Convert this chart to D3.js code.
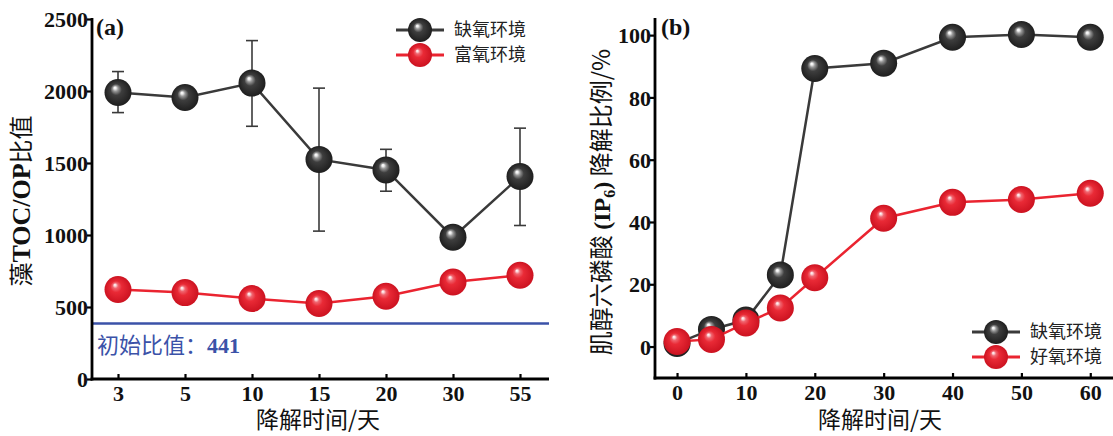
<!DOCTYPE html>
<html><head><meta charset="utf-8">
<script src="https://cdn.jsdelivr.net/npm/d3@7"></script>
<style>
body{margin:0;background:#fff;}
svg{display:block;}
.num{font-family:"Liberation Serif","Times New Roman",serif;font-weight:bold;}
.cjk{font-family:"Noto Sans CJK SC",sans-serif;}
</style></head>
<body><svg id="c" width="1113" height="436"></svg>
<script>
// ---- data ----
const daysA = ["3","5","10","15","20","30","55"];
const anoxA = [1990, 1955, 2055, 1525, 1452, 985, 1406];
const anoxAErrLow = [1850, null, 1755, 1027, 1304, null, 1066];
const anoxAErrHigh = [2135, null, 2350, 2020, 1595, null, 1742];
const oxicA = [621, 600, 559, 524, 575, 674, 720];
const baselineA = 385;
const baselineLabel = "441";
const ticksAy = [0, 500, 1000, 1500, 2000, 2500];

const daysB = [0, 5, 10, 15, 20, 30, 40, 50, 60];
const anoxB = [1, 5.5, 8.5, 23, 89.3, 91, 99.3, 100.2, 99.3];
const oxicB = [1.6, 2.3, 7.6, 12.4, 22.1, 41.2, 46.3, 47.2, 49.2];
const ticksBx = [0, 10, 20, 30, 40, 50, 60];
const ticksBy = [0, 20, 40, 60, 80, 100];

const svg = d3.select("#c");
const defs = svg.append("defs");
function grad(id, stops){
  const g = defs.append("radialGradient").attr("id", id)
    .attr("cx","0.5").attr("cy","0.5").attr("r","0.5").attr("fx","0.38").attr("fy","0.32");
  stops.forEach(s=>g.append("stop").attr("offset",s[0]).attr("stop-color",s[1]));
}
grad("gBlack", [[0,"#ffffff"],[0.08,"#f0f0f0"],[0.2,"#9a9a9a"],[0.42,"#3e3e3e"],[1,"#1e1e1e"]]);
grad("gRed", [[0,"#ffffff"],[0.08,"#fbd5d8"],[0.2,"#f06670"],[0.42,"#e92a36"],[1,"#cc1220"]]);

const BLACK = "#3a3a3a", RED = "#ea2430", BLUE = "#3b52a8";
const R = 13.5;
const TF = 22;

function styleY(g){
  g.select(".domain").remove();
  g.selectAll(".tick line").attr("stroke","#000").attr("stroke-width",2.2);
  g.selectAll("text").attr("class","num").attr("font-size",TF).attr("fill","#111").attr("x",-4).attr("dy","0.35em");
}
function styleX(g){
  g.select(".domain").remove();
  g.selectAll(".tick line").attr("stroke","#000").attr("stroke-width",2.2);
  g.selectAll("text").attr("class","num").attr("font-size",TF).attr("fill","#111").attr("y",6).attr("dy","0.71em");
}

// ---------- Panel A ----------
const xA = d3.scalePoint().domain(daysA).range([118, 520]);
const yA = d3.scaleLinear().domain([0, 2500]).range([379, 19]);
const gA = svg.append("g");

gA.append("line").attr("x1", 92).attr("x2", 549)
  .attr("y1", yA(baselineA)).attr("y2", yA(baselineA))
  .attr("stroke", BLUE).attr("stroke-width", 2.5);
const bl = gA.append("text").attr("x", 97).attr("y", yA(baselineA) + 29)
  .attr("fill", BLUE).attr("font-size", 22);
bl.append("tspan").attr("class","cjk").text("初始比值：");
bl.append("tspan").attr("class","num").attr("font-size",22).text(baselineLabel);

gA.append("g").attr("transform","translate(92,0)")
  .call(d3.axisLeft(yA).tickValues(ticksAy).tickFormat(d3.format("d")).tickSize(5).tickSizeOuter(0)).call(styleY);
gA.append("g").attr("transform","translate(0,379)")
  .call(d3.axisBottom(xA).tickSize(-5).tickSizeOuter(0)).call(styleX);
gA.append("line").attr("x1",92).attr("x2",92).attr("y1",18).attr("y2",380.5).attr("stroke","#000").attr("stroke-width",2.8);
gA.append("line").attr("x1",90.6).attr("x2",549).attr("y1",379).attr("y2",379).attr("stroke","#000").attr("stroke-width",2.8);

const lineA = d3.line().x((d,i)=>xA(daysA[i])).y(d=>yA(d));
gA.append("path").datum(anoxA).attr("d", lineA).attr("fill","none").attr("stroke",BLACK).attr("stroke-width",2.5);
gA.append("path").datum(oxicA).attr("d", lineA).attr("fill","none").attr("stroke",RED).attr("stroke-width",2.5);
daysA.forEach((d,i)=>{
  if(anoxAErrLow[i]==null) return;
  const x = xA(d);
  gA.append("line").attr("x1",x).attr("x2",x).attr("y1",yA(anoxAErrLow[i])).attr("y2",yA(anoxAErrHigh[i])).attr("stroke",BLACK).attr("stroke-width",1.6);
  [anoxAErrLow[i], anoxAErrHigh[i]].forEach(v=>gA.append("line").attr("x1",x-6).attr("x2",x+6).attr("y1",yA(v)).attr("y2",yA(v)).attr("stroke",BLACK).attr("stroke-width",1.6));
});
gA.selectAll(".pa").data(anoxA).enter().append("circle").attr("cx",(d,i)=>xA(daysA[i])).attr("cy",d=>yA(d)).attr("r",R).attr("fill","url(#gBlack)");
gA.selectAll(".pb").data(oxicA).enter().append("circle").attr("cx",(d,i)=>xA(daysA[i])).attr("cy",d=>yA(d)).attr("r",R).attr("fill","url(#gRed)");

gA.append("text").attr("class","num").attr("x",96).attr("y",35).attr("font-size",24).attr("fill","#111").text("(a)");
const tA = gA.append("text").attr("transform","translate(30,201) rotate(-90)").attr("text-anchor","middle").attr("font-size",26).attr("fill","#111");
tA.append("tspan").attr("class","cjk").attr("font-size",24).text("藻");
tA.append("tspan").attr("class","num").text("TOC/OP");
tA.append("tspan").attr("class","cjk").attr("font-size",24).text("比值");
gA.append("text").attr("class","cjk").attr("x",318).attr("y",428).attr("text-anchor","middle").attr("font-size",23).attr("fill","#111").text("降解时间/天");

function legend(g, x, y, fill, color, label){
  g.append("line").attr("x1",x-24).attr("x2",x+24).attr("y1",y).attr("y2",y).attr("stroke",color).attr("stroke-width",3);
  g.append("circle").attr("cx",x).attr("cy",y).attr("r",12).attr("fill",fill);
  g.append("text").attr("class","cjk").attr("x",x+34).attr("y",y).attr("dy","0.36em").attr("font-size",18).attr("fill","#222").text(label);
}
legend(gA, 420, 30, "url(#gBlack)", BLACK, "缺氧环境");
legend(gA, 420, 55, "url(#gRed)", RED, "富氧环境");

// ---------- Panel B ----------
const xB = d3.scaleLinear().domain([-3.2, 63.3]).range([655, 1113]);
const yB = d3.scaleLinear().domain([-10.1, 105.5]).range([378, 18]);
const gB = svg.append("g");
gB.append("g").attr("transform","translate(655,0)")
  .call(d3.axisLeft(yB).tickValues(ticksBy).tickSize(5).tickSizeOuter(0)).call(styleY);
gB.append("g").attr("transform","translate(0,378)")
  .call(d3.axisBottom(xB).tickValues(ticksBx).tickSize(-5).tickSizeOuter(0)).call(styleX);
gB.append("line").attr("x1",655).attr("x2",655).attr("y1",18).attr("y2",379.5).attr("stroke","#000").attr("stroke-width",2.8);
gB.append("line").attr("x1",653.6).attr("x2",1113).attr("y1",378).attr("y2",378).attr("stroke","#000").attr("stroke-width",2.8);

const lineB = d3.line().x((d,i)=>xB(daysB[i])).y(d=>yB(d));
gB.append("path").datum(anoxB).attr("d", lineB).attr("fill","none").attr("stroke",BLACK).attr("stroke-width",2.5);
gB.selectAll(".qa").data(anoxB).enter().append("circle").attr("cx",(d,i)=>xB(daysB[i])).attr("cy",d=>yB(d)).attr("r",R).attr("fill","url(#gBlack)");
gB.append("path").datum(oxicB).attr("d", lineB).attr("fill","none").attr("stroke",RED).attr("stroke-width",2.5);
gB.selectAll(".qb").data(oxicB).enter().append("circle").attr("cx",(d,i)=>xB(daysB[i])).attr("cy",d=>yB(d)).attr("r",R).attr("fill","url(#gRed)");

gB.append("text").attr("class","num").attr("x",661).attr("y",35).attr("font-size",24).attr("fill","#111").text("(b)");
const tB = gB.append("text").attr("transform","translate(610,202) rotate(-90)").attr("text-anchor","middle").attr("font-size",24).attr("fill","#111");
tB.append("tspan").attr("class","cjk").text("肌醇六磷酸 ");
tB.append("tspan").attr("class","num").text("(IP");
tB.append("tspan").attr("class","num").attr("font-size",16).attr("dy",5).text("6");
tB.append("tspan").attr("class","num").attr("dy",-5).text(")");
tB.append("tspan").attr("class","cjk").text(" 降解比例/%");
gB.append("text").attr("class","cjk").attr("x",880).attr("y",428).attr("text-anchor","middle").attr("font-size",23).attr("fill","#111").text("降解时间/天");

legend(gB, 996, 332, "url(#gBlack)", BLACK, "缺氧环境");
legend(gB, 996, 357, "url(#gRed)", RED, "好氧环境");
</script></body></html>
